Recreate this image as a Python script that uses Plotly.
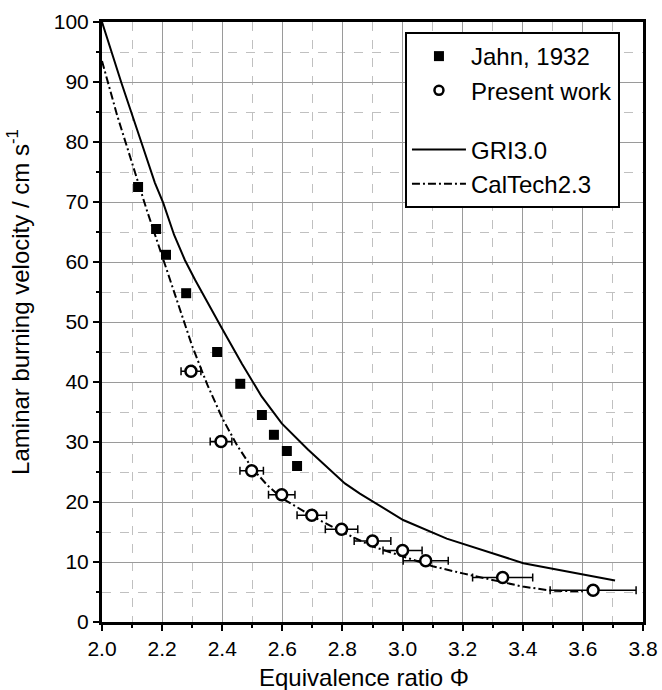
import plotly.graph_objects as go

# Jahn, 1932 (filled squares)
jahn_phi = [2.12, 2.18, 2.213, 2.28, 2.383, 2.46, 2.532, 2.572, 2.615, 2.649]
jahn_su = [72.5, 65.5, 61.2, 54.8, 45.0, 39.7, 34.5, 31.2, 28.5, 26.0]

# Present work (open circles with x error bars)
pw_phi = [2.296, 2.396, 2.498, 2.598, 2.698, 2.797, 2.90, 3.0, 3.077, 3.333, 3.634]
pw_su = [41.8, 30.1, 25.2, 21.2, 17.8, 15.45, 13.5, 11.9, 10.2, 7.4, 5.3]
pw_err = [0.033, 0.036, 0.039, 0.044, 0.049, 0.054, 0.061, 0.065, 0.075, 0.10, 0.143]

# GRI3.0 model (solid)
gri_phi = [2.0, 2.065, 2.132, 2.176, 2.204, 2.24, 2.276, 2.31, 2.396, 2.465, 2.531,
           2.598, 2.686, 2.808, 2.858, 3.002, 3.147, 3.402, 3.707]
gri_su = [100.0, 89.8, 79.8, 73.2, 69.8, 64.5, 60.3, 57.0, 49.2, 43.1, 37.6,
          33.1, 28.7, 23.1, 21.4, 17.0, 13.9, 9.8, 6.9]

# CalTech2.3 model (dash-dot)
cal_phi = [2.0, 2.05, 2.1, 2.15, 2.2, 2.25, 2.3, 2.35, 2.4, 2.45, 2.5, 2.55, 2.6,
           2.7, 2.8, 2.9, 3.0, 3.1, 3.2, 3.3, 3.4, 3.5, 3.6]
cal_su = [93.5, 84.5, 76.5, 68.5, 61.0, 53.3, 46.0, 39.6, 34.0, 29.4, 25.6, 22.8, 20.6,
          17.6, 15.0, 12.6, 10.9, 9.3, 8.1, 7.0, 5.9, 5.2, 5.1]

x_title = "Equivalence ratio Φ"
y_title = "Laminar burning velocity / cm s<sup>-1</sup>"

FONT = "Liberation Sans, Arial, sans-serif"

fig = go.Figure()

fig.add_trace(go.Scatter(
    x=gri_phi, y=gri_su, mode="lines", name="GRI3.0",
    line=dict(color="black", width=2), legendgroup="model", legendrank=3))
fig.add_trace(go.Scatter(
    x=cal_phi, y=cal_su, mode="lines", name="CalTech2.3",
    line=dict(color="black", width=2, dash="8px,3px,2px,3px"), legendgroup="model", legendrank=4))
fig.add_trace(go.Scatter(
    x=jahn_phi, y=jahn_su, mode="markers", name="Jahn, 1932",
    marker=dict(symbol="square", size=10, color="black"),
    legendgroup="data", legendrank=1))
fig.add_trace(go.Scatter(
    x=pw_phi, y=pw_su, mode="markers", name="Present work", showlegend=False,
    marker=dict(symbol="circle", size=11, color="white", line=dict(color="black", width=2.5)),
    error_x=dict(type="data", array=pw_err, color="black", thickness=1.5, width=4),
    legendgroup="data"))
fig.add_trace(go.Scatter(
    x=[None], y=[None], mode="markers", name="Present work",
    marker=dict(symbol="circle", size=9, color="white", line=dict(color="black", width=2.5)),
    legendgroup="data", legendrank=2))

axis_common = dict(
    showline=True, linecolor="black", linewidth=3, mirror=True,
    ticks="outside", tickcolor="black", tickwidth=2, ticklen=6,
    showgrid=True, gridcolor="#9a9a9a", gridwidth=1,
    zeroline=False, automargin=False,
    tickfont=dict(family=FONT, size=21, color="black"),
)

fig.update_xaxes(
    range=[2.0, 3.8], dtick=0.2, tick0=2.0, tickformat=".1f",
    minor=dict(dtick=0.1, showgrid=True, griddash="dash", gridcolor="#c0c0c0",
               ticks="outside", ticklen=3, tickcolor="black", tickwidth=1.5),
    **axis_common)
fig.update_yaxes(
    range=[0, 100], dtick=10, tick0=0,
    minor=dict(dtick=5, showgrid=True, griddash="dash", gridcolor="#c0c0c0",
               ticks="outside", ticklen=3, tickcolor="black", tickwidth=1.5),
    **axis_common)

fig.add_annotation(
    text=x_title, xref="paper", yref="paper", x=0.484, y=-0.0917,
    xanchor="center", yanchor="middle", showarrow=False,
    font=dict(family=FONT, size=24, color="black"))
fig.add_annotation(
    text=y_title, xref="paper", yref="paper", x=-0.154, y=0.533,
    xanchor="center", yanchor="middle", showarrow=False, textangle=-90,
    font=dict(family=FONT, size=24, color="black"))

fig.update_layout(
    width=662, height=690,
    margin=dict(l=102, r=19, t=22, b=68),
    plot_bgcolor="white", paper_bgcolor="white",
    font=dict(family=FONT, color="black"),
    showlegend=True,
    legend=dict(
        x=0.56, y=0.9833, xanchor="left", yanchor="top",
        bgcolor="white", bordercolor="black", borderwidth=2,
        font=dict(family=FONT, size=24, color="black"),
        traceorder="grouped", tracegroupgap=25,
        itemwidth=54,
    ),
)

fig.write_html("out.html", config={"displayModeBar": False},
               post_script="document.body.style.margin='0';")
